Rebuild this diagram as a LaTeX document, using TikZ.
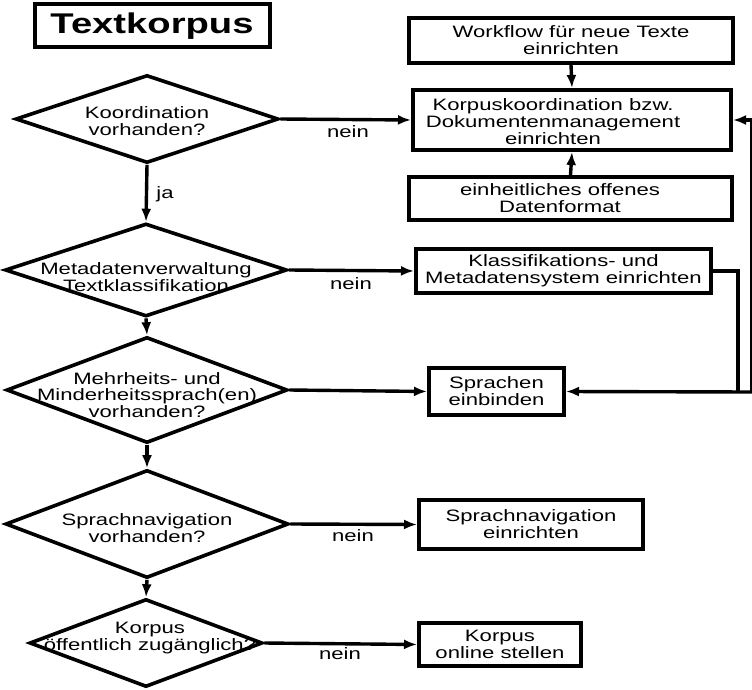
\documentclass[tikz,border=0pt]{standalone}
\usepackage{fontspec}
\setmainfont[FakeStretch=1.34]{Liberation Sans}
\usetikzlibrary{arrows.meta,shapes.geometric}

\begin{document}
\begin{tikzpicture}[x=1pt,y=-1pt,
  stepbox/.style={draw,line width=4pt,rectangle,inner sep=0pt,align=center,font=\fontsize{16.5}{17}\selectfont},
  decision/.style={draw,diamond,line width=3.6pt,inner sep=0pt},
  dtext/.style={align=center,inner sep=0pt,font=\fontsize{16.5}{16.5}\selectfont},
  flow/.style={line width=3.4pt,-{Latex[length=13pt,width=10pt]}},
  lbl/.style={inner sep=0pt,font=\fontsize{16.5}{17}\selectfont}]
\useasboundingbox (0,0) rectangle (752,690);
\node[draw,line width=4pt,minimum width=235,minimum height=43,font=\fontsize{28.5}{28}\selectfont\bfseries] (title) at (152,26) {Textkorpus};
% decisions
\node[decision,minimum width=263,minimum height=88] (koord) at (147,119) {};
\node[dtext] (koordtxt) at (147,121) {Koordination\\vorhanden?};
\node[decision,minimum width=282,minimum height=93] (meta) at (146,270) {};
\node[dtext] (metatxt) at (146,277) {Metadatenverwaltung\\Textklassifikation};
\node[decision,minimum width=281,minimum height=106] (sprach) at (147,390) {};
\node[dtext] (sprachtxt) at (147,395) {Mehrheits- und\\Minderheitssprach(en)\\vorhanden?};
\node[decision,minimum width=283,minimum height=108] (navi) at (147,524) {};
\node[dtext] (navitxt) at (147,528) {Sprachnavigation\\vorhanden?};
\node[decision,minimum width=233,minimum height=88] (offen) at (146,643) {};
\node[dtext] (offentxt) at (150,638) {Korpus\\öffentlich zugänglich?};
% boxes
\node[stepbox,minimum width=324,minimum height=45] (workflow) at (571,40.5) {Workflow für neue Texte\\einrichten};
\node[stepbox,minimum width=318,minimum height=60] (kkoord) at (572,120) {};
\node[lbl,align=center] (kkoordtxt) at (553,122) {Korpuskoordination bzw.\\Dokumentenmanagement\\einrichten};
\node[stepbox,minimum width=323,minimum height=43] (format) at (570.5,198.5) {};
\node[lbl,align=center] (formattxt) at (560,198.5) {einheitliches offenes\\Datenformat};
\node[stepbox,minimum width=295,minimum height=44] (klass) at (563.5,271) {Klassifikations- und\\Metadatensystem einrichten};
\node[stepbox,minimum width=135,minimum height=47] (spr) at (496.5,391.5) {Sprachen\\einbinden};
\node[stepbox,minimum width=224,minimum height=49] (snav) at (531,524.5) {Sprachnavigation\\einrichten};
\node[stepbox,minimum width=162,minimum height=43] (online) at (500,644.5) {Korpus\\online stellen};
% connectors
\draw[flow] (koord.east) -- (kkoord.west);
\node[lbl] (nein1) at (348,132) {nein};
\draw[flow] (koord.south) -- (meta.north);
\node[lbl] (ja) at (165,194) {ja};
\draw[flow] (workflow.south) -- (kkoord.north);
\draw[flow] (format.north) -- (kkoord.south);
\draw[flow] (meta.east) -- (klass.west);
\node[lbl] (nein2) at (351,284) {nein};
\draw[flow] (meta.south) -- (sprach.north);
\draw[flow] (sprach.east) -- (spr.west);
\draw[flow] (sprach.south) -- (navi.north);
\draw[flow] (navi.east) -- (snav.west);
\node[lbl] (nein3) at (353,536) {nein};
\draw[flow] (navi.south) -- (offen.north);
\draw[flow] (offen.east) -- (online.west);
\node[lbl] (nein4) at (340,654) {nein};
\coordinate (turn) at (738,392);
\coordinate (edge) at (752,392);
\draw[line width=3.4pt] (klass.east) -| (turn);
\draw[flow] (edge) -- (spr.east);
\draw[flow] (edge) |- (kkoord.east);
\end{tikzpicture}
\end{document}
